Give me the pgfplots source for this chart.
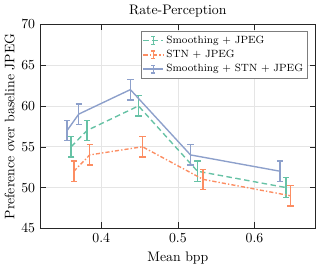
\documentclass[border=0pt]{standalone}
\usepackage{pgfplots}
\pgfplotsset{compat=1.18}
\definecolor{cg}{HTML}{66C2A5}
\definecolor{co}{HTML}{FC8D62}
\definecolor{cb}{HTML}{8DA0CB}
\definecolor{axc}{HTML}{262626}
\begin{document}
\begin{tikzpicture}
\begin{axis}[
  scale only axis,
  width=200pt, height=148pt,
  xmin=0.32, xmax=0.68, ymin=45, ymax=70,
  xtick={0.4,0.5,0.6}, ytick={45,50,...,70},
  xticklabels={0.4,0.5,0.6},
  grid=major, grid style={color=gray!20, line width=0.4pt},
  axis line style={axc}, tick style={axc},
  tick align=inside,
  title={Rate-Perception},
  title style={yshift=-4pt},
  xlabel={Mean bpp}, ylabel={Preference over baseline JPEG},
  ylabel style={yshift=-2pt},
  legend style={at={(0.97,0.965)}, anchor=north east, draw=axc!60, font=\fontsize{7.6}{8.5}\selectfont, inner sep=1pt, row sep=-0.5pt, legend cell align=left},
  legend image code/.code={
    \draw[#1] (0cm,0cm) -- (0.5cm,0cm);
    \draw[#1,solid] (0.25cm,-0.1cm) -- (0.25cm,0.1cm);
    \draw[#1,solid] (0.2cm,-0.1cm) -- (0.3cm,-0.1cm);
    \draw[#1,solid] (0.2cm,0.1cm) -- (0.3cm,0.1cm);
  },
  every axis plot/.append style={line width=1pt},
  error bars/y dir=both, error bars/y explicit,
  error bars/error bar style={solid, line width=1pt},
  error bars/error mark options={rotate=90, mark size=2.3pt, line width=1pt},
]
\addplot[cg, dash pattern=on 4pt off 2.5pt, mark=none] coordinates {
 (0.3607,55) +- (0,1.25)
 (0.3815,57) +- (0,1.25)
 (0.4486,60) +- (0,1.25)
 (0.5256,52) +- (0,1.25)
 (0.6412,50) +- (0,1.25)
};
\addlegendentry{Smoothing + JPEG}
\addplot[co, dash pattern=on 3pt off 1.5pt on 1pt off 1.5pt, mark=none] coordinates {
 (0.3642,52) +- (0,1.25)
 (0.3850,54) +- (0,1.25)
 (0.4538,55) +- (0,1.25)
 (0.5330,51) +- (0,1.25)
 (0.6470,49) +- (0,1.25)
};
\addlegendentry{STN + JPEG}
\addplot[cb, solid, mark=none] coordinates {
 (0.3555,57) +- (0,1.25)
 (0.3706,59) +- (0,1.25)
 (0.4380,62) +- (0,1.25)
 (0.5165,54) +- (0,1.25)
 (0.6334,52) +- (0,1.25)
};
\addlegendentry{Smoothing + STN + JPEG}
\end{axis}
\end{tikzpicture}
\end{document}
